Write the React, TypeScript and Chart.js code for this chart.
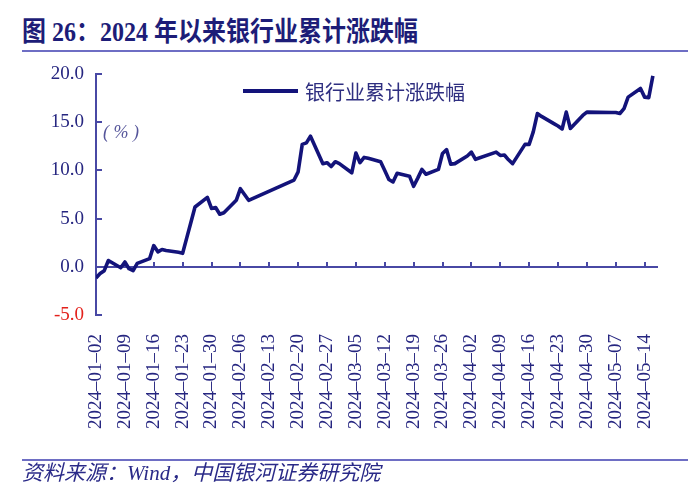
import React, { useEffect, useRef } from "react";
import { Chart, registerables } from "chart.js";

Chart.register(...registerables);

const dates = [
  "2024-01-02", "2024-01-03", "2024-01-04", "2024-01-05", "2024-01-08", "2024-01-09", "2024-01-10", "2024-01-11", "2024-01-12",
  "2024-01-15", "2024-01-16", "2024-01-17", "2024-01-18", "2024-01-19", "2024-01-22", "2024-01-23", "2024-01-24", "2024-01-25",
  "2024-01-26", "2024-01-29", "2024-01-30", "2024-01-31", "2024-02-01", "2024-02-02", "2024-02-05", "2024-02-06", "2024-02-07",
  "2024-02-08", "2024-02-19", "2024-02-20", "2024-02-21", "2024-02-22", "2024-02-23", "2024-02-26", "2024-02-27", "2024-02-28",
  "2024-02-29", "2024-03-01", "2024-03-04", "2024-03-05", "2024-03-06", "2024-03-07", "2024-03-08", "2024-03-11", "2024-03-12",
  "2024-03-13", "2024-03-14", "2024-03-15", "2024-03-18", "2024-03-19", "2024-03-20", "2024-03-21", "2024-03-22", "2024-03-25",
  "2024-03-26", "2024-03-27", "2024-03-28", "2024-03-29", "2024-04-01", "2024-04-02", "2024-04-03", "2024-04-08", "2024-04-09",
  "2024-04-10", "2024-04-11", "2024-04-12", "2024-04-15", "2024-04-16", "2024-04-17", "2024-04-18", "2024-04-19", "2024-04-22",
  "2024-04-23", "2024-04-24", "2024-04-25", "2024-04-26", "2024-04-29", "2024-04-30", "2024-05-06", "2024-05-07", "2024-05-08",
  "2024-05-09", "2024-05-10", "2024-05-13", "2024-05-14", "2024-05-15", "2024-05-16",
];

const bankCumReturn = [
  -1.15, -0.7, -0.4, 0.65, -0.1, 0.5, -0.2, -0.4, 0.35,
  0.85, 2.2, 1.55, 1.8, 1.7, 1.5, 1.4, 3.0, 4.6,
  6.2, 7.2, 6.05, 6.15, 5.45, 5.6, 6.9, 8.1, 7.5,
  6.9, 9.0, 9.85, 12.7, 12.85, 13.55, 10.7, 10.8, 10.4,
  10.9, 10.7, 9.75, 11.8, 10.8, 11.35, 11.25, 10.9, 10.0,
  9.05, 8.8, 9.7, 9.4, 8.35, 9.2, 10.1, 9.6, 10.1,
  11.75, 12.15, 10.65, 10.7, 11.5, 11.9, 11.15, 11.9, 11.55,
  11.6, 11.1, 10.7, 12.7, 12.7, 14.0, 15.9, 15.6, 14.85,
  14.6, 14.3, 16.05, 14.35, 15.7, 16.05, 16.0, 16.0, 15.9,
  16.4, 17.6, 18.5, 17.6, 17.55, 19.8,
];

const xTickLabels = [
  "2024–01–02", "2024–01–09", "2024–01–16", "2024–01–23", "2024–01–30", "2024–02–06", "2024–02–13",
  "2024–02–20", "2024–02–27", "2024–03–05", "2024–03–12", "2024–03–19", "2024–03–26", "2024–04–02",
  "2024–04–09", "2024–04–16", "2024–04–23", "2024–04–30", "2024–05–07", "2024–05–14",
];

const seriesName = "银行业累计涨跌幅";
const unitLabel = "( % )";
const titleText = "图 26：2024 年以来银行业累计涨跌幅";
const sourceText = "资料来源：Wind，中国银河证券研究院";

const START = Date.UTC(2024, 0, 2);
const dayIndex = (d: string) =>
  Math.round((Date.UTC(+d.slice(0, 4), +d.slice(5, 7) - 1, +d.slice(8, 10)) - START) / 86400000);

const LINE = "#13137a";
const AXIS = "#4848a4";
const LABEL = "#262680";
const RED = "#e3211c";
const SERIF = '"Liberation Serif", "Times New Roman", serif';

const overlayPlugin = {
  id: "overlay",
  afterDatasetsDraw(chart: any) {
    const { ctx, chartArea } = chart;
    const ds = chart.data.datasets[0];
    ctx.save();
    const lx = chartArea.left + 147;
    const ly = chartArea.top + 17;
    ctx.strokeStyle = ds.borderColor;
    ctx.lineWidth = 4;
    ctx.beginPath();
    ctx.moveTo(lx, ly);
    ctx.lineTo(lx + 55, ly);
    ctx.stroke();
    ctx.font = '20px "Noto Sans CJK SC"';
    ctx.fillStyle = "#2e2e80";
    ctx.textBaseline = "middle";
    ctx.textAlign = "left";
    ctx.fillText(ds.label, lx + 62, ly + 1);
    ctx.font = 'italic 18px "Liberation Serif"';
    ctx.fillStyle = "#55559a";
    ctx.fillText(unitLabel, chartArea.left + 7, chart.scales.y.getPixelForValue(13.85));
    ctx.restore();
  },
};

export default function App() {
  const ref = useRef<HTMLCanvasElement | null>(null);

  useEffect(() => {
    if (!ref.current) return;
    const points = dates.map((d, i) => ({ x: dayIndex(d), y: bankCumReturn[i] }));
    const chart = new Chart(ref.current, {
      type: "line",
      data: {
        datasets: [
          {
            label: seriesName,
            data: points,
            borderColor: LINE,
            backgroundColor: LINE,
            borderWidth: 3.6,
            pointRadius: 0,
            tension: 0,
            borderJoinStyle: "round",
          },
        ],
      },
      options: {
        responsive: false,
        animation: false,
        layout: { padding: { left: 0, right: 43, top: 74, bottom: 0 } },
        plugins: { legend: { display: false }, tooltip: { enabled: false } },
        scales: {
          x: {
            type: "linear",
            min: 0,
            max: 136,
            position: "bottom",
            border: { display: false },
            grid: { display: false, drawTicks: false },
            ticks: {
              stepSize: 7,
              includeBounds: false,
              autoSkip: false,
              minRotation: 90,
              maxRotation: 90,
              padding: 19,
              color: LABEL,
              font: { family: SERIF, size: 19 },
              callback: (_v: any, i: number) => xTickLabels[i] ?? "",
            },
            afterFit: (s: any) => {
              s.height = 189;
            },
          },
          x0: {
            type: "linear",
            axis: "x",
            min: 0,
            max: 136,
            position: { y: 0 },
            border: { display: true, color: AXIS, width: 2 },
            grid: { drawOnChartArea: false, drawTicks: true, tickLength: -6, color: AXIS, lineWidth: 2 },
            ticks: { display: false, stepSize: 7, includeBounds: false },
          },
          y: {
            type: "linear",
            min: -5,
            max: 20,
            border: { display: true, color: AXIS, width: 2 },
            grid: { drawOnChartArea: false, drawTicks: true, tickLength: -6, color: AXIS, lineWidth: 2 },
            ticks: {
              stepSize: 5,
              padding: 18,
              color: (c: any) => (c.tick && c.tick.value < 0 ? RED : LABEL),
              font: { family: SERIF, size: 19 },
              callback: (v: any) => Number(v).toFixed(1),
            },
            afterFit: (s: any) => {
              s.width = 96;
            },
          },
        },
      } as any,
      plugins: [overlayPlugin],
    });
    return () => chart.destroy();
  }, []);

  return (
    <div style={{ position: "absolute", left: 0, top: 0, width: 700, height: 504, background: "#fff", overflow: "hidden" }}>
      <div
        style={{
          position: "absolute",
          left: 22,
          top: 15,
          fontFamily: '"Liberation Serif", "Noto Sans CJK SC", serif',
          fontWeight: "bold",
          fontSize: 24,
          color: "#1d1d78",
          whiteSpace: "nowrap",
          lineHeight: "30px",
          transform: "scaleY(1.12)",
          transformOrigin: "left top",
        }}
      >
        {titleText}
      </div>
      <div style={{ position: "absolute", left: 22, top: 50, width: 666, height: 2, background: "#6e6ec4" }} />
      <canvas ref={ref} width={700} height={504} style={{ position: "absolute", left: 0, top: 0 }} />
      <div style={{ position: "absolute", left: 22, top: 459, width: 666, height: 2, background: "#6e6ec4" }} />
      <div
        style={{
          position: "absolute",
          left: 22,
          top: 460,
          fontFamily: '"Liberation Serif", "Noto Sans CJK SC", serif',
          fontStyle: "italic",
          fontSize: 21,
          color: "#2a2a88",
          whiteSpace: "nowrap",
          lineHeight: "26px",
        }}
      >
        {sourceText}
      </div>
    </div>
  );
}
